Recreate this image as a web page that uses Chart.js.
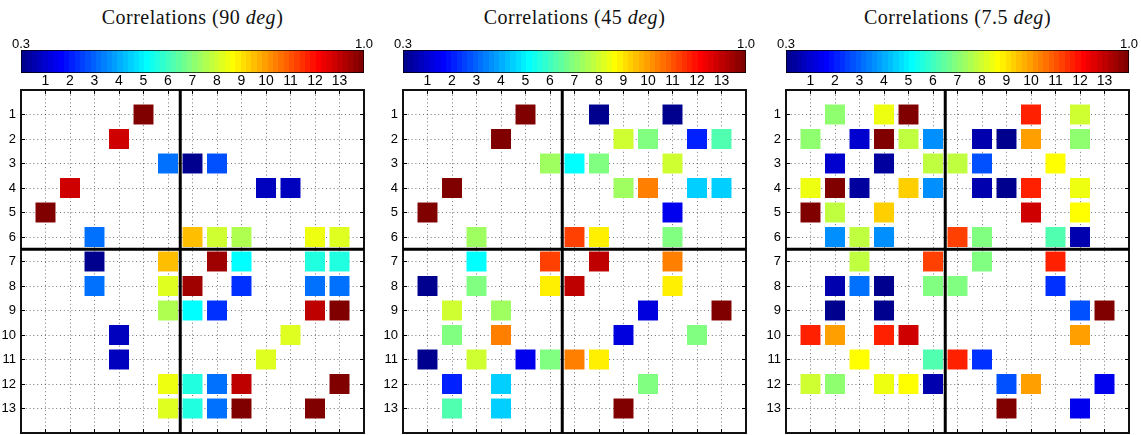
<!DOCTYPE html>
<html>
<head>
<meta charset="utf-8">
<script src="https://cdn.jsdelivr.net/npm/chart.js@4.4.1/dist/chart.umd.min.js"></script>
<style>
  html, body { margin: 0; padding: 0; background: #fff; }
  #fig { position: relative; width: 1141px; height: 435px; overflow: hidden; }
  .title {
    position: absolute; top: 4px; height: 26px; line-height: 26px;
    font-family: "Liberation Serif", "Times New Roman", serif;
    font-size: 20px; letter-spacing: 0.5px; text-align: center;
    white-space: nowrap; color: #111;
  }
  canvas { position: absolute; }
</style>
</head>
<body>
<div id="fig"></div>
<script>
// Channel indices shown on both axes of every matrix
const channels = [1, 2, 3, 4, 5, 6, 7, 8, 9, 10, 11, 12, 13];
const tickLabels = ['1', '2', '3', '4', '5', '6', '7', '8', '9', '10', '11', '12', '13'];

// Colour scale limits
const colorbarRange = [0.3, 1.0];
const colorbarTickLabels = ['0.3', '1.0'];

// Panel titles: angle values
const panelAngles = ['90', '45', '7.5'];

// Significant correlations, [column, row, value]
const cells90 = [
  [5, 1, 1.0],
  [4, 2, 0.945],
  [6, 3, 0.456], [7, 3, 0.31], [8, 3, 0.44],
  [2, 4, 0.945], [10, 4, 0.34], [11, 4, 0.34],
  [1, 5, 1.0],
  [3, 6, 0.456], [7, 6, 0.78], [8, 6, 0.70], [9, 6, 0.68], [12, 6, 0.72], [13, 6, 0.71],
  [3, 7, 0.31], [6, 7, 0.78], [8, 7, 0.975], [9, 7, 0.552], [12, 7, 0.58], [13, 7, 0.58],
  [3, 8, 0.456], [6, 8, 0.71], [7, 8, 0.975], [9, 8, 0.42], [12, 8, 0.456], [13, 8, 0.456],
  [6, 9, 0.68], [7, 9, 0.552], [8, 9, 0.42], [12, 9, 0.956], [13, 9, 1.0],
  [4, 10, 0.34], [11, 10, 0.71],
  [4, 11, 0.34], [10, 11, 0.71],
  [6, 12, 0.72], [7, 12, 0.58], [8, 12, 0.456], [9, 12, 0.956], [13, 12, 1.0],
  [6, 13, 0.71], [7, 13, 0.58], [8, 13, 0.456], [9, 13, 1.0], [12, 13, 1.0]
];

const cells45 = [
  [5, 1, 1.0], [8, 1, 0.31], [11, 1, 0.31],
  [4, 2, 0.99], [9, 2, 0.70], [10, 2, 0.64], [12, 2, 0.40], [13, 2, 0.61],
  [6, 3, 0.665], [7, 3, 0.56], [8, 3, 0.64], [11, 3, 0.695],
  [2, 4, 0.99], [9, 4, 0.665], [10, 4, 0.816], [12, 4, 0.52], [13, 4, 0.525],
  [1, 5, 1.0], [11, 5, 0.37],
  [3, 6, 0.67], [7, 6, 0.858], [8, 6, 0.742], [11, 6, 0.64],
  [3, 7, 0.56], [6, 7, 0.858], [8, 7, 0.956], [11, 7, 0.816],
  [1, 8, 0.31], [3, 8, 0.64], [6, 8, 0.742], [7, 8, 0.956], [11, 8, 0.742],
  [2, 9, 0.70], [4, 9, 0.665], [10, 9, 0.36], [13, 9, 1.0],
  [2, 10, 0.64], [4, 10, 0.816], [9, 10, 0.36], [12, 10, 0.64],
  [1, 11, 0.31], [3, 11, 0.695], [5, 11, 0.37], [6, 11, 0.64], [7, 11, 0.816], [8, 11, 0.742],
  [2, 12, 0.40], [4, 12, 0.52], [10, 12, 0.64],
  [2, 13, 0.61], [4, 13, 0.525], [9, 13, 1.0]
];

const cells7p5 = [
  [2, 1, 0.66], [4, 1, 0.72], [5, 1, 1.0], [10, 1, 0.89], [12, 1, 0.695],
  [1, 2, 0.66], [3, 2, 0.35], [4, 2, 1.0], [5, 2, 0.69], [6, 2, 0.477], [8, 2, 0.33], [9, 2, 0.31], [10, 2, 0.80], [12, 2, 0.66],
  [2, 3, 0.35], [4, 3, 0.32], [6, 3, 0.69], [7, 3, 0.69], [8, 3, 0.44], [11, 3, 0.73],
  [1, 4, 0.72], [2, 4, 1.0], [3, 4, 0.32], [5, 4, 0.76], [6, 4, 0.477], [8, 4, 0.33], [9, 4, 0.31], [10, 4, 0.88], [12, 4, 0.72],
  [1, 5, 1.0], [2, 5, 0.69], [4, 5, 0.76], [10, 5, 0.935], [12, 5, 0.73],
  [2, 6, 0.477], [3, 6, 0.69], [4, 6, 0.477], [7, 6, 0.858], [8, 6, 0.64], [11, 6, 0.617], [12, 6, 0.33],
  [3, 7, 0.69], [6, 7, 0.858], [8, 7, 0.64], [11, 7, 0.89],
  [2, 8, 0.33], [3, 8, 0.456], [4, 8, 0.31], [6, 8, 0.64], [7, 8, 0.64], [11, 8, 0.41],
  [2, 9, 0.31], [4, 9, 0.31], [12, 9, 0.44], [13, 9, 1.0],
  [1, 10, 0.89], [2, 10, 0.80], [4, 10, 0.88], [5, 10, 0.935], [12, 10, 0.80],
  [3, 11, 0.73], [6, 11, 0.617], [7, 11, 0.89], [8, 11, 0.41],
  [1, 12, 0.695], [2, 12, 0.66], [4, 12, 0.72], [5, 12, 0.73], [6, 12, 0.33], [9, 12, 0.44], [10, 12, 0.80], [13, 12, 0.37],
  [9, 13, 1.0], [12, 13, 0.37]
];

const panelCells = [cells90, cells45, cells7p5];

// Block separator between channels 1-6 and 7-13
const blockSplit = 6.5;

// ---------- layout (pixels) ----------
const panelLeft = [21, 403, 786];
const panelSize = 343;
const plotTop = 90;
const FONT = '"Liberation Sans", Arial, Helvetica, sans-serif';

// ---------- 64-level jet colour map ----------
const JET = (() => {
  const n = 16, u = [];
  for (let k = 1; k <= n; k++) u.push(k / n);
  for (let k = 0; k < n - 1; k++) u.push(1);
  for (let k = n; k >= 1; k--) u.push(k / n);
  const pick = (row, off) => { const j = row - off; return (j >= 1 && j <= u.length) ? u[j - 1] : 0; };
  const out = [];
  for (let row = 1; row <= 64; row++) {
    const r = Math.round(255 * pick(row, 24));
    const g = Math.round(255 * pick(row, 8));
    const b = Math.round(255 * pick(row, -8));
    out.push(`rgb(${r},${g},${b})`);
  }
  return out;
})();

function jetColor(v) {
  const [lo, hi] = colorbarRange;
  const i = Math.min(63, Math.max(0, Math.floor((v - lo) / (hi - lo) * 64)));
  return JET[i];
}

const fig = document.getElementById('fig');

function makeCanvas(left, top, w, h) {
  const c = document.createElement('canvas');
  c.width = w; c.height = h;
  c.style.left = left + 'px'; c.style.top = top + 'px';
  c.style.width = w + 'px'; c.style.height = h + 'px';
  fig.appendChild(c);
  return c;
}

const integerTicks = (scale) => { scale.ticks = channels.map(v => ({ value: v })); };
const noEdgePadding = (s) => { s.paddingTop = 0; s.paddingBottom = 0; s.paddingLeft = 0; s.paddingRight = 0; };

panelAngles.forEach((angle, p) => {
  const L = panelLeft[p];

  // title
  const t = document.createElement('div');
  t.className = 'title';
  t.style.left = L + 'px';
  t.style.width = panelSize + 'px';
  t.innerHTML = 'Correlations (' + angle + ' <i>deg</i>)';
  fig.appendChild(t);

  // ---------- colour bar ----------
  const cbCanvas = makeCanvas(L - 20, 28, panelSize + 40, 50);
  new Chart(cbCanvas, {
    type: 'bar',
    data: {
      labels: ['scale'],
      datasets: [{
        data: [colorbarRange],
        barPercentage: 1,
        categoryPercentage: 1,
        borderWidth: 1,
        borderColor: '#000',
        borderSkipped: false,
        backgroundColor: (ctx) => {
          const a = ctx.chart.chartArea;
          if (!a) return '#888';
          const g = ctx.chart.ctx.createLinearGradient(a.left, 0, a.right, 0);
          JET.forEach((c, i) => { g.addColorStop(i / 64, c); g.addColorStop((i + 1) / 64, c); });
          return g;
        }
      }]
    },
    options: {
      indexAxis: 'y',
      responsive: false,
      animation: false,
      events: [],
      layout: { autoPadding: false, padding: { left: 20, right: 20, top: 0, bottom: 5 } },
      plugins: { legend: { display: false }, tooltip: { enabled: false } },
      scales: {
        x: {
          type: 'linear', position: 'top',
          min: colorbarRange[0], max: colorbarRange[1],
          afterBuildTicks: (s) => { s.ticks = colorbarRange.map(v => ({ value: v })); },
          afterFit: (s) => { s.height = 22; noEdgePadding(s); },
          grid: { display: false, drawTicks: false },
          border: { display: false },
          ticks: {
            autoSkip: false, maxRotation: 0, padding: -2, color: '#000',
            font: { family: FONT, size: 13 },
            callback: (v, i) => colorbarTickLabels[i]
          }
        },
        y: { type: 'category', display: false }
      }
    }
  });

  // ---------- correlation matrix ----------
  const mCanvas = makeCanvas(L - 24, 70, panelSize + 30, 365);
  const cellSide = (chart) => {
    const a = chart.chartArea;
    if (!a) return 10;
    return (a.right - a.left) / 14 * 0.815 / Math.SQRT2;
  };
  const gridStyle = {
    color: 'rgba(0,0,0,0.55)', lineWidth: 1,
    drawTicks: true, tickLength: -4, tickColor: '#000', tickWidth: 1
  };
  const borderStyle = { display: true, color: '#111', width: 2, dash: [1, 2.8] };

  new Chart(mCanvas, {
    data: {
      datasets: [
        {
          type: 'scatter',
          data: panelCells[p].map(([c, r, v]) => ({ x: c, y: r, v })),
          pointStyle: 'rect',
          pointRadius: (ctx) => cellSide(ctx.chart),
          pointHoverRadius: (ctx) => cellSide(ctx.chart),
          pointBorderWidth: 0,
          pointHoverBorderWidth: 0,
          pointBackgroundColor: (ctx) => jetColor(ctx.raw ? ctx.raw.v : 0.3),
          order: 2
        },
        {
          type: 'line',
          data: [{ x: blockSplit, y: 0 }, { x: blockSplit, y: 14 }],
          borderColor: '#000', borderWidth: 3, pointRadius: 0, fill: false, order: 1
        },
        {
          type: 'line',
          data: [{ x: 0, y: blockSplit }, { x: 14, y: blockSplit }],
          borderColor: '#000', borderWidth: 3, pointRadius: 0, fill: false, order: 1
        }
      ]
    },
    options: {
      responsive: false,
      animation: false,
      events: [],
      layout: { autoPadding: false, padding: { left: 0, top: 0, right: 6, bottom: 2 } },
      plugins: { legend: { display: false }, tooltip: { enabled: false } },
      scales: {
        x: {
          type: 'linear', position: 'top', min: 0, max: 14,
          afterBuildTicks: integerTicks,
          afterFit: (s) => { s.height = plotTop - 70; noEdgePadding(s); },
          grid: gridStyle,
          border: borderStyle,
          ticks: {
            autoSkip: false, maxRotation: 0, padding: 4, color: '#000',
            font: { family: FONT, size: 14 },
            callback: (v) => tickLabels[v - 1]
          }
        },
        y: {
          type: 'linear', position: 'left', reverse: true, min: 0, max: 14,
          afterBuildTicks: integerTicks,
          afterFit: (s) => { s.width = 24; noEdgePadding(s); },
          grid: gridStyle,
          border: borderStyle,
          ticks: {
            autoSkip: false, padding: 9, color: '#000',
            font: { family: FONT, size: 13 },
            callback: (v) => tickLabels[v - 1]
          }
        },
        x2: {
          type: 'linear', position: 'bottom', min: 0, max: 14,
          afterBuildTicks: integerTicks,
          afterFit: (s) => { s.height = 0; noEdgePadding(s); },
          grid: Object.assign({}, gridStyle, { drawOnChartArea: false }),
          border: borderStyle,
          ticks: { display: false }
        },
        y2: {
          type: 'linear', position: 'right', reverse: true, min: 0, max: 14,
          afterBuildTicks: integerTicks,
          afterFit: (s) => { s.width = 0; noEdgePadding(s); },
          grid: Object.assign({}, gridStyle, { drawOnChartArea: false }),
          border: borderStyle,
          ticks: { display: false }
        }
      }
    }
  });
});
</script>
</body>
</html>
